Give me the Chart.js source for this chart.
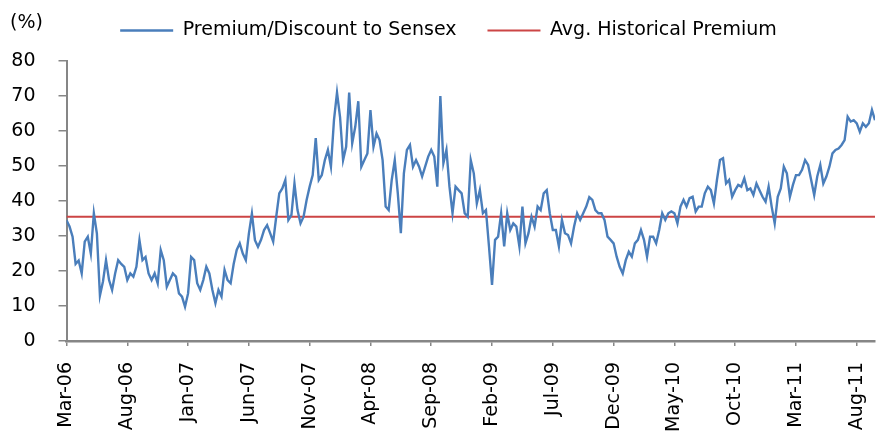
<!DOCTYPE html>
<html>
<head>
<meta charset="utf-8">
<script src="https://cdn.jsdelivr.net/npm/chart.js@4.4.1/dist/chart.umd.min.js"></script>
<style>
  html, body { margin: 0; padding: 0; background: #fff; }
</style>
</head>
<body>
<canvas id="chart1" width="886" height="438"></canvas>
<script>
// x = months since Mar-06, one reading every quarter month
const stepMonths = 0.25;
const tickLabels = ['Mar-06', 'Aug-06', 'Jan-07', 'Jun-07', 'Nov-07', 'Apr-08', 'Sep-08',
    'Feb-09', 'Jul-09', 'Dec-09', 'May-10', 'Oct-10', 'Mar-11', 'Aug-11'];

// Premium/Discount to Sensex (%)
const premium = [
    34.5, 32.7, 29.8, 22, 23, 19.3, 28.4, 29.8, 25, 36.5,
    30.7, 13, 17, 23.1, 17.4, 14.6, 19.3, 23.1, 22, 21.2,
    17.4, 19.3, 18.4, 21.2, 28.8, 23.1, 24, 19.3, 17.4, 19.3,
    16.5, 26, 23.1, 15.5, 17.4, 19.3, 18.4, 13.6, 12.7, 9.8,
    13.6, 24, 23.1, 16.5, 14.6, 17.4, 21.2, 19.3, 14.6, 10.8,
    14.6, 12.7, 20.3, 17.4, 16.5, 22, 26, 27.9, 25, 23.1,
    30.7, 36.4, 28.8, 26.9,
    28.9, 31.7, 33.1, 30.8, 28.4, 35.5, 42.2, 43.6, 46, 34.6,
    36, 45, 37.4, 33.6, 35.5, 40.3, 44.1, 47.4, 58, 46,
    47.4, 51.7, 54.6, 49.8, 63.1, 71, 64, 51.7, 55.5, 71,
    56.5, 61.2, 68.5, 49.8, 51.7, 53.6, 66, 55.5, 59.3, 57.4,
    51.7, 38.4, 37.4, 46, 51.7, 42.2, 30.8, 47.9, 54.6, 56,
    49.8, 51.7, 49.8, 47, 49.8, 52.7, 54.6, 52.7, 44.1,
    70, 50.8, 54.6, 44.1, 36.5, 44.1, 43.1, 42.2, 36.5, 35.5,
    51.7, 47.9, 39.3, 43.1, 36.5, 37.4, 27, 16, 28.9, 29.8,
    36.5, 27, 36.5, 31.7, 33.6, 32.7, 27, 38.4, 27.9, 30.8,
    35.5, 32.7, 38.4, 37.4, 42.2, 43.1, 36.5, 31.7, 31.7, 27,
    34.6, 30.8, 30.3, 27.9, 32.7, 36.5, 34.6, 36.5, 38.4, 41.1,
    40.3, 37.4, 36.5, 36.5, 34.6, 29.8, 28.9, 27.9, 24.1,
    21.2, 19.3, 23.1, 25.5, 24.1, 27.9, 28.9, 31.7, 28.9, 24.1,
    29.8, 29.8, 27.9, 31.7, 36.5, 34.6, 36.5, 37, 36.5, 33.6,
    38.4, 40.3, 38.4, 40.8, 41.2, 37, 38.4, 38.4, 42.2, 44.1,
    43.1, 39.3, 46, 51.7, 52.2, 45, 46, 41.2, 43.1, 44.6,
    44.1, 46.5, 43.1, 43.6, 41.7, 45, 43.1, 41.2, 39.8, 44.1,
    38.4, 33.6, 41.2, 43.6, 49.8, 47.9, 41.2, 44.6, 47.4,
    47.4, 48.9, 51.7, 50.3, 46, 41.7, 47, 50.3, 45, 47,
    49.8, 53.6, 54.6, 55, 56, 57.4, 64.1, 62.7, 63.1, 62.2,
    59.8, 62.2, 61.2, 62.2, 66, 63.1
];
const avgPremium = 35.5;

const yMin = 0, yMax = 80, yStep = 10;
const xMax = (premium.length - 1) * stepMonths;

const axisGrey = '#868686';
const fontFamily = 'DejaVu Sans';
const fontSize = 19;

// the legend sits a little right of centre in the original
const legendShift = {
    id: 'legendShift',
    afterLayout(chart) {
        chart.legend.left += 11;
        chart.legend.right += 11;
    }
};

const percentLabel = {
    id: 'percentLabel',
    afterDraw(chart) {
        const ctx = chart.ctx;
        ctx.save();
        ctx.font = fontSize + 'px "' + fontFamily + '"';
        ctx.fillStyle = '#000';
        ctx.textBaseline = 'middle';
        ctx.fillText('(%)', 10, 23);
        ctx.restore();
    }
};

document.addEventListener('DOMContentLoaded', () => {
    const chart1 = document.getElementById('chart1');
    new Chart(chart1.getContext('2d'), {
        type: 'line',
        data: {
            datasets: [{
                label: 'Premium/Discount to Sensex',
                data: premium.map((v, i) => ({ x: i * stepMonths, y: v })),
                borderColor: '#4a7ebb',
                backgroundColor: '#4a7ebb',
                borderWidth: 2.4,
                pointRadius: 0,
                tension: 0
            }, {
                label: 'Avg. Historical Premium',
                data: [{ x: 0, y: avgPremium }, { x: xMax, y: avgPremium }],
                borderColor: '#cc4545',
                backgroundColor: '#cc4545',
                borderWidth: 2,
                pointRadius: 0
            }]
        },
        plugins: [legendShift, percentLabel],
        options: {
            responsive: false,
            animation: false,
            layout: { padding: { left: 0, right: 11, top: -10, bottom: 0 } },
            plugins: {
                legend: {
                    labels: {
                        usePointStyle: true,
                        pointStyle: 'line',
                        pointStyleWidth: 53,
                        color: '#000',
                        padding: 31,
                        font: { family: fontFamily, size: fontSize }
                    }
                },
                // empty title used as a gap between legend and plot
                title: {
                    display: true,
                    text: '',
                    weight: 500,
                    padding: 0,
                    font: { size: 10, lineHeight: 1.1 }
                },
                tooltip: { enabled: false }
            },
            scales: {
                x: {
                    type: 'linear',
                    min: 0,
                    max: xMax,
                    border: { color: axisGrey, width: 2.5 },
                    grid: { drawOnChartArea: false, color: axisGrey, tickLength: 5, lineWidth: 1.5 },
                    ticks: {
                        stepSize: 5,
                        includeBounds: false,
                        autoSkip: false,
                        minRotation: 90,
                        maxRotation: 90,
                        padding: 16,
                        color: '#000',
                        font: { family: fontFamily, size: fontSize },
                        callback: (v) => tickLabels[Math.round(v / 5)]
                    },
                    afterFit: (scale) => {
                        scale.height = 97;
                        scale.paddingRight = 0; // last label is not at the axis end
                    }
                },
                y: {
                    min: yMin,
                    max: yMax,
                    border: { color: axisGrey, width: 2 },
                    grid: { drawOnChartArea: false, color: axisGrey, tickLength: 8, lineWidth: 1.5 },
                    ticks: {
                        stepSize: yStep,
                        padding: 23,
                        color: '#000',
                        font: { family: fontFamily, size: fontSize }
                    },
                    afterFit: (scale) => { scale.width = 66.5; }
                }
            }
        }
    });
});
</script>
</body>
</html>
